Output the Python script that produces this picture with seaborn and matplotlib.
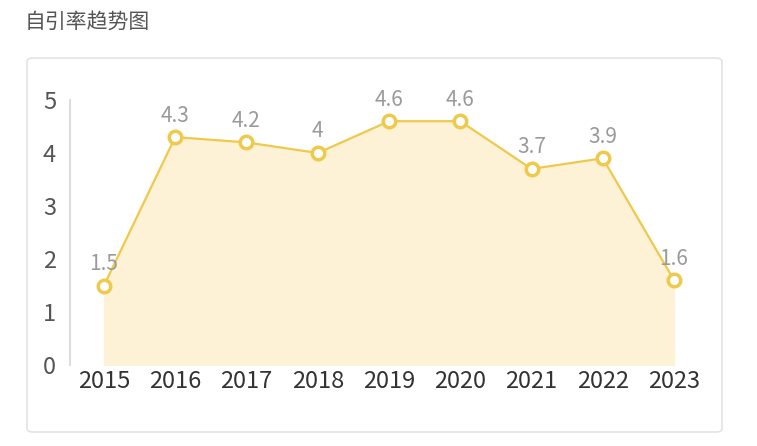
import matplotlib
matplotlib.use("Agg")
import matplotlib.pyplot as plt
import seaborn as sns
import pandas as pd
from matplotlib.patches import FancyBboxPatch

years = ["2015", "2016", "2017", "2018", "2019", "2020", "2021", "2022", "2023"]
rates = [1.5, 4.3, 4.2, 4.0, 4.6, 4.6, 3.7, 3.9, 1.6]
labels = ["1.5", "4.3", "4.2", "4", "4.6", "4.6", "3.7", "3.9", "1.6"]

df = pd.DataFrame({"x": range(len(years)), "rate": rates})

sns.set_theme(style="white")
plt.rcParams['font.family'] = ['Noto Sans CJK SC', 'DejaVu Sans']

W, H = 757, 446
fig = plt.figure(figsize=(W / 100, H / 100), dpi=100)

card = FancyBboxPatch((27 / W, 1 - 432 / H), 695 / W, 374 / H,
                      boxstyle="round,pad=0,rounding_size=0.008",
                      transform=fig.transFigure, facecolor="white",
                      edgecolor="#e3e3e3", linewidth=1.2, zorder=-5)
fig.patches.append(card)
fig.text(25 / W, 1 - 22 / H, "自引率趋势图", fontsize=15, color="#555555", va="center")

ax = fig.add_axes([70 / W, 1 - 365 / H, 640 / W, 265 / H])
ax.set_zorder(1)
ax.patch.set_alpha(0)
line_c = "#EFC94C"
ax.fill_between(df["x"], df["rate"], 0, color="#FDF2D6", zorder=1)
sns.lineplot(data=df, x="x", y="rate", ax=ax, color=line_c, linewidth=1.6,
             marker="o", markersize=9, markerfacecolor="white",
             markeredgecolor=line_c, markeredgewidth=2.5, zorder=3)
for xi, v, t in zip(df["x"], rates, labels):
    ax.text(xi, v + 0.2, t, ha="center", va="bottom", fontsize=15, color="#9a9a9a")

ax.set_xlim(-0.477, 8.505)
ax.set_ylim(0, 5)
ax.set_xticks(range(len(years)))
ax.set_xticklabels(years)
ax.set_yticks([0, 1, 2, 3, 4, 5])
ax.tick_params(axis="both", length=0, labelsize=17, colors="#333333")
ax.tick_params(axis="y", pad=10, colors="#555555")
ax.set_xlabel("")
ax.set_ylabel("")
for s in ["top", "right", "bottom"]:
    ax.spines[s].set_visible(False)
ax.spines["left"].set_color("#dddddd")
ax.spines["left"].set_linewidth(1.5)

fig.savefig("out.png", dpi=100)
